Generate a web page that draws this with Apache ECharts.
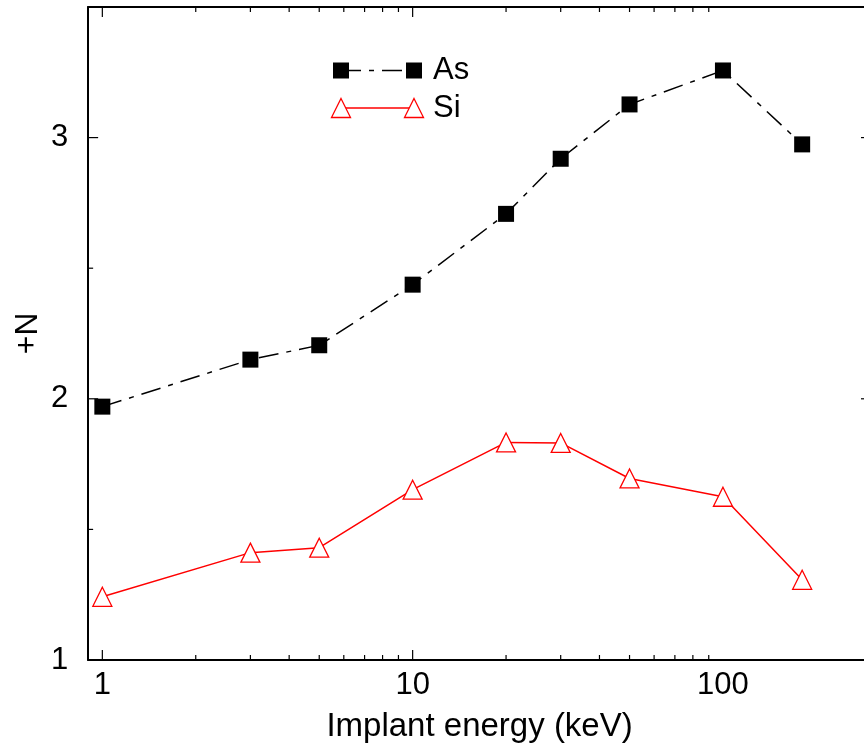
<!DOCTYPE html>
<html>
<head>
<meta charset="utf-8">
<script src="https://cdn.jsdelivr.net/npm/echarts@6/dist/echarts.min.js"></script>
<style>
  html, body { margin: 0; padding: 0; background: #fff; overflow: hidden; }
  #chart { width: 880px; height: 748px; }
</style>
</head>
<body>
<div id="chart"></div>
<script>
// Implant energies (keV) and the N+ value measured for each implanted species
const energy = [1, 3, 5, 10, 20, 30, 50, 100, 180];
const asValues = [1.97, 2.15, 2.205, 2.437, 2.708, 2.919, 3.127, 3.257, 2.974];
const siValues = [1.242, 1.411, 1.43, 1.652, 1.833, 1.831, 1.695, 1.625, 1.307];
const seriesNames = ['As', 'Si'];

// Axis ranges and tick marks
const xRange = [0.9, 300];
const yRange = [1, 3.5];
const xTickLabels = [1, 10, 100];
const xMajorTicks = [1, 10];
const xMinorTicks = [2, 3, 4, 5, 6, 7, 8, 9, 20, 30, 40, 50, 60, 70, 80, 90];
const yTickLabels = [1, 2, 3];
const yMinorTicks = [1.5, 2.5];

const FONT = '"Liberation Sans", Arial, Helvetica, sans-serif';
const MAJOR = 10, MINOR = 5;

// Inward ticks on the bottom and top frame edges
function xTickSeries(values, len) {
  return {
    type: 'custom', coordinateSystem: 'cartesian2d', silent: true, z: 6,
    data: values.map(v => [v, yRange[0]]),
    renderItem: (params, api) => {
      const v = api.value(0);
      const b = api.coord([v, yRange[0]]);
      const t = api.coord([v, yRange[1]]);
      return {
        type: 'group', children: [
          { type: 'line', shape: { x1: b[0], y1: b[1], x2: b[0], y2: b[1] - len }, style: { stroke: '#000', lineWidth: 1.2 } },
          { type: 'line', shape: { x1: t[0], y1: t[1], x2: t[0], y2: t[1] + len }, style: { stroke: '#000', lineWidth: 1.2 } }
        ]
      };
    }
  };
}

// Inward ticks on the left and right frame edges
function yTickSeries(values, len) {
  return {
    type: 'custom', coordinateSystem: 'cartesian2d', silent: true, z: 6,
    data: values.map(v => [xRange[0], v]),
    renderItem: (params, api) => {
      const v = api.value(1);
      const l = api.coord([xRange[0], v]);
      const r = api.coord([xRange[1], v]);
      return {
        type: 'group', children: [
          { type: 'line', shape: { x1: l[0], y1: l[1], x2: l[0] + len, y2: l[1] }, style: { stroke: '#000', lineWidth: 1.2 } },
          { type: 'line', shape: { x1: r[0], y1: r[1], x2: r[0] - len, y2: r[1] }, style: { stroke: '#000', lineWidth: 1.2 } }
        ]
      };
    }
  };
}

const near = (v, list) => list.find(t => Math.abs(v - t) <= Math.abs(t) * 1e-6 + 1e-9);

const frameLine = { show: true, lineStyle: { color: '#000', width: 2 } };
const labelStyle = { color: '#000', fontSize: 31, fontFamily: FONT };

// Legend: sample line with a marker at each end, as drawn in the plot
const AS_DASH = [20, 8, 5, 8];
function legendRow(name, y, kind) {
  const x1 = 341, x2 = 414;
  const els = [];
  if (kind === 'as') {
    els.push({ type: 'line', z: 10, shape: { x1, y1: y, x2, y2: y }, style: { stroke: '#000', lineWidth: 1.5, lineDash: AS_DASH } });
    [x1, x2].forEach(x => els.push({ type: 'rect', z: 11, shape: { x: x - 8, y: y - 8, width: 16, height: 16 }, style: { fill: '#000' } }));
  } else {
    els.push({ type: 'line', z: 10, shape: { x1, y1: y, x2, y2: y }, style: { stroke: '#f00', lineWidth: 1.5 } });
    [x1, x2].forEach(x => els.push({ type: 'polygon', z: 11, shape: { points: [[x, y - 9.5], [x + 9.5, y + 9.5], [x - 9.5, y + 9.5]] }, style: { fill: '#fff', stroke: '#f00', lineWidth: 1.3 } }));
  }
  els.push({ type: 'text', z: 11, x: 433, y: y, style: { text: name, fill: '#000', fontSize: 31, fontFamily: FONT, verticalAlign: 'middle', align: 'left' } });
  return els;
}

const chart = echarts.init(document.getElementById('chart'), null, { renderer: 'canvas' });
chart.setOption({
  animation: false,
  backgroundColor: '#fff',
  grid: { left: 87, top: 7, width: 784, height: 653, containLabel: false },
  xAxis: [
    {
      type: 'log', logBase: 10, min: xRange[0], max: xRange[1], position: 'bottom',
      axisLine: frameLine, axisTick: { show: false }, splitLine: { show: false }, minorTick: { show: false },
      axisLabel: Object.assign({ margin: 10, showMinLabel: true, showMaxLabel: true,
        formatter: v => { const t = near(v, xTickLabels); return t === undefined ? '' : String(t); } }, labelStyle),
      name: 'Implant energy (keV)', nameLocation: 'middle', nameGap: 50,
      nameTextStyle: { color: '#000', fontSize: 33, fontFamily: FONT }
    },
    {
      type: 'log', logBase: 10, min: xRange[0], max: xRange[1], position: 'top',
      axisLine: frameLine, axisTick: { show: false }, axisLabel: { show: false }, splitLine: { show: false }
    }
  ],
  yAxis: [
    {
      type: 'value', min: yRange[0], max: yRange[1], interval: 0.5, position: 'left',
      axisLine: frameLine, axisTick: { show: false }, splitLine: { show: false },
      axisLabel: Object.assign({ margin: 20,
        formatter: v => { const t = near(v, yTickLabels); return t === undefined ? '' : String(t); } }, labelStyle),
      name: 'N+', nameLocation: 'middle', nameRotate: -90, nameGap: 44,
      nameTextStyle: { color: '#000', fontSize: 32, fontFamily: FONT }
    },
    {
      type: 'value', min: yRange[0], max: yRange[1], interval: 0.5, position: 'right',
      axisLine: frameLine, axisTick: { show: false }, axisLabel: { show: false }, splitLine: { show: false }
    }
  ],
  series: [
    xTickSeries(xMajorTicks, MAJOR),
    xTickSeries(xMinorTicks, MINOR),
    yTickSeries(yTickLabels, MAJOR),
    yTickSeries(yMinorTicks, MINOR),
    {
      name: seriesNames[0], type: 'line', z: 3,
      data: energy.map((e, i) => [e, asValues[i]]),
      symbol: 'rect', symbolSize: 16, showSymbol: true,
      itemStyle: { color: '#000' },
      lineStyle: { color: '#000', width: 1.5, type: AS_DASH }
    },
    {
      name: seriesNames[1], type: 'line', z: 3,
      data: energy.map((e, i) => [e, siValues[i]]),
      symbol: 'triangle', symbolSize: 19, showSymbol: true,
      itemStyle: { color: '#fff', borderColor: '#f00', borderWidth: 1.3 },
      lineStyle: { color: '#f00', width: 1.5 }
    }
  ],
  graphic: [].concat(legendRow(seriesNames[0], 70.5, 'as'), legendRow(seriesNames[1], 108, 'si'))
});
</script>
</body>
</html>
